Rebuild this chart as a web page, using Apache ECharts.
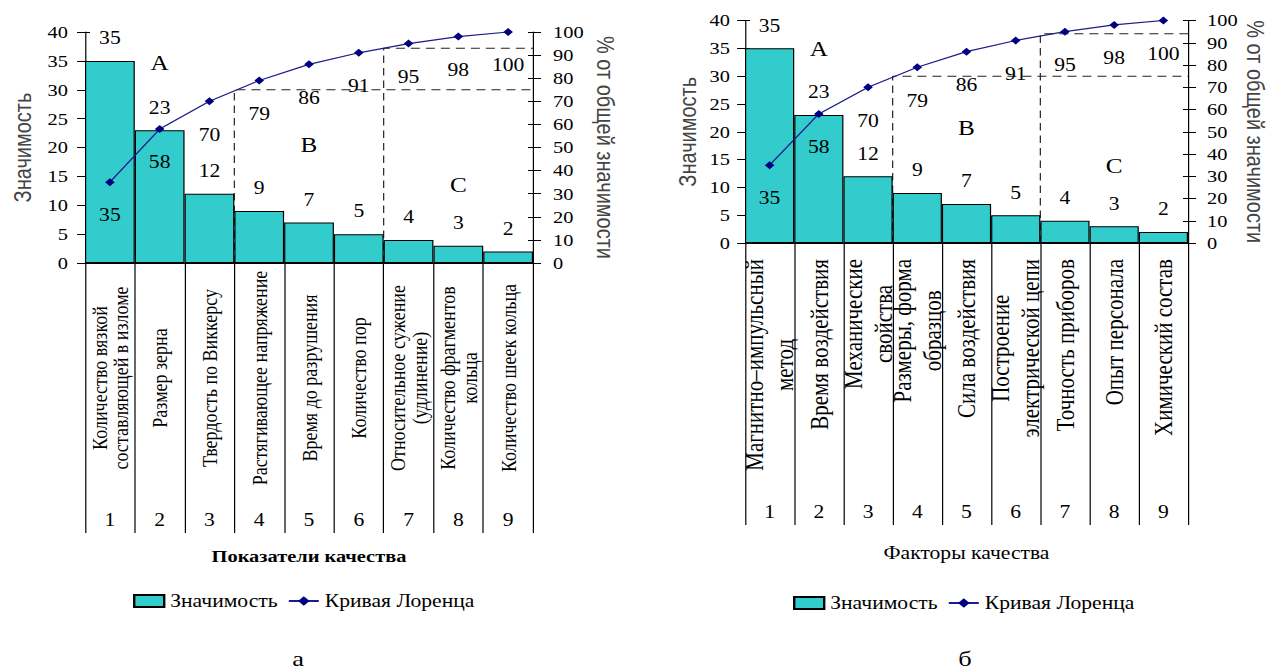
<!DOCTYPE html>
<html>
<head>
<meta charset="utf-8">
<script src="https://cdn.jsdelivr.net/npm/echarts@6/dist/echarts.min.js"></script>
<style>
  html, body { margin: 0; padding: 0; background: #fff; overflow: hidden; }
  #wrap { width: 1268px; height: 671px; overflow: hidden; }
  /* the figure is set in a horizontally widened face: draw narrower, then widen 1.2x */
  #chart { width: 1057px; height: 671px; transform: scaleX(1.2); transform-origin: 0 0; }
</style>
</head>
<body>
<div id="wrap"><div id="chart"></div></div>
<script>
// ---- Pareto data: significance of each item and cumulative share (Lorenz curve), % ----
const significanceA = [35, 23, 12, 9, 7, 5, 4, 3, 2];
const cumulativeA   = [35, 58, 70, 79, 86, 91, 95, 98, 100];
const significanceB = [35, 23, 12, 9, 7, 5, 4, 3, 2];
const cumulativeB   = [35, 58, 70, 79, 86, 91, 95, 98, 100];

const categoriesA = [
  'Количество вязкой\nсоставляющей в изломе',
  'Размер зерна',
  'Твердость по Виккерсу',
  'Растягивающее напряжение',
  'Время до разрушения',
  'Количество пор',
  'Относительное сужение\n(удлинение)',
  'Количество фрагментов\nкольца',
  'Количество шеек кольца'
];
const categoriesB = [
  'Магнитно–импульсный\nметод',
  'Время воздействия',
  'Механические\nсвойства',
  'Размеры, форма\nобразцов',
  'Сила воздействия',
  'Построение\nэлектрической цепи',
  'Точность приборов',
  'Опыт персонала',
  'Химический состав'
];
const rankLabels = ['1', '2', '3', '4', '5', '6', '7', '8', '9'];

// ABC zones: zone A ends after item 3, zone B after item 6; cumulative limits, %
const zoneEnds = [3, 6];
const zoneThresholdsA = [75, 93];
const zoneThresholdsB = [75, 94];
const zoneNames = ['A', 'B', 'C'];
// zone letters: [item index, height on the significance axis]
const zoneLetterPosA = [[1, 34.6], [4, 20.4], [7, 13.5]];
const zoneLetterPosB = [[1, 35.0], [4, 20.7], [7, 13.8]];

const SIG_MAX = 40, SIG_STEP = 5, PCT_MAX = 100, PCT_STEP = 10;

// ---- layout ----
const SX = 1.2;
const px = v => v / SX;             // page x -> drawing x
const SERIF = '"Liberation Serif","Times New Roman",serif';
const SANS = '"Liberation Sans",Arial,sans-serif';
const INK = '#000';

const panels = [
  {
    grid: { left: px(85), top: 32, width: px(533 - 85), height: 231 },
    categories: categoriesA, values: significanceA, cumulative: cumulativeA,
    thresholds: zoneThresholdsA, letters: zoneLetterPosA,
    catLabel: { rotate: 90, align: 'center', margin: 115, fontSize: 18, lineHeight: 18 },
    richCenter: false,
    tickLen: 270, rankMargin: 248,
    title: 'Показатели качества', titleGap: 285, titleWeight: 'bold', titleSize: 17,
    yLabelMargin: [px(17), px(20)], yNameGap: [42, 50],
    legendPos: { left: px(133), top: 592 },
    tag: 'а', tagX: px(298)
  },
  {
    grid: { left: px(745), top: 20.5, width: px(1188 - 745), height: 222.5 },
    categories: categoriesB, values: significanceB, cumulative: cumulativeB,
    thresholds: zoneThresholdsB, letters: zoneLetterPosB,
    catLabel: { rotate: 90, margin: 16, fontSize: 21, lineHeight: 25 },
    richCenter: true,
    tickLen: 282, rankMargin: 260,
    title: 'Факторы качества', titleGap: 301, titleWeight: 'normal', titleSize: 18,
    yLabelMargin: [px(15), px(19)], yNameGap: [38, 46],
    legendPos: { left: px(793), top: 594 },
    tag: 'б', tagX: px(965)
  }
];

const grid = [], xAxis = [], yAxis = [], series = [], legend = [], graphic = [];

panels.forEach((p, k) => {
  const xb = k * 3, yb = k * 4;
  grid.push(Object.assign({ containLabel: false, outerBoundsMode: 'none' }, p.grid));

  const catLabel = {
    interval: 0, rotate: p.catLabel.rotate, margin: p.catLabel.margin,
    fontFamily: SERIF, fontSize: p.catLabel.fontSize, lineHeight: p.catLabel.lineHeight, color: INK
  };
  if (p.catLabel.align) catLabel.align = p.catLabel.align;
  if (p.richCenter) {
    catLabel.formatter = v => v.split('\n').map(s => '{c|' + s + '}').join('\n');
    catLabel.rich = { c: { align: 'center', fontFamily: SERIF, fontSize: p.catLabel.fontSize,
                           lineHeight: p.catLabel.lineHeight, color: INK } };
  }

  // category names with separators running down between them
  xAxis.push({
    type: 'category', gridIndex: k, position: 'bottom', data: p.categories, boundaryGap: true,
    axisLine: { show: true, onZero: false, lineStyle: { color: INK, width: 1 } },
    axisTick: { show: true, interval: 0, length: p.tickLen, lineStyle: { color: INK, width: 1 } },
    axisLabel: catLabel, splitLine: { show: false }
  });
  // item numbers row and axis title
  xAxis.push({
    type: 'category', gridIndex: k, position: 'bottom', data: rankLabels, boundaryGap: true,
    axisLine: { show: false, onZero: false }, axisTick: { show: false },
    axisLabel: { interval: 0, margin: p.rankMargin, fontFamily: SERIF, fontSize: 18, color: INK },
    name: p.title, nameLocation: 'middle', nameGap: p.titleGap,
    nameTextStyle: { fontFamily: SERIF, fontSize: p.titleSize, fontWeight: p.titleWeight, color: INK }
  });
  // continuous item scale for zone borders
  xAxis.push({ type: 'value', gridIndex: k, min: 0, max: p.categories.length, show: false });

  const valueAxis = (pos, max, step) => ({
    type: 'value', gridIndex: k, position: pos, min: 0, max: max, interval: step,
    axisLine: { show: true, onZero: false, lineStyle: { color: INK, width: 1 } },
    axisTick: { show: true, inside: false, length: px(8), lineStyle: { color: INK, width: 1 } },
    splitLine: { show: false }
  });
  const left = valueAxis('left', SIG_MAX, SIG_STEP);
  left.axisLabel = { margin: p.yLabelMargin[0], fontFamily: SERIF, fontSize: 17, color: INK };
  left.name = 'Значимость'; left.nameLocation = 'middle'; left.nameRotate = 90; left.nameGap = p.yNameGap[0];
  left.nameTextStyle = { fontFamily: SANS, fontSize: 20, color: '#444' };
  const right = valueAxis('right', PCT_MAX, PCT_STEP);
  right.axisLabel = { margin: p.yLabelMargin[1], fontFamily: SERIF, fontSize: 17, color: INK };
  right.name = '% от общей значимости'; right.nameLocation = 'middle'; right.nameRotate = -90; right.nameGap = p.yNameGap[1];
  right.nameTextStyle = { fontFamily: SANS, fontSize: 20, color: '#444' };
  yAxis.push(left, right);
  // inner halves of the crossing tick marks
  const innerTicks = (pos, max, step) => ({
    type: 'value', gridIndex: k, position: pos, min: 0, max: max, interval: step,
    axisLine: { show: false, onZero: false }, axisLabel: { show: false }, splitLine: { show: false },
    axisTick: { show: true, inside: true, length: px(5), lineStyle: { color: INK, width: 1 } }
  });
  yAxis.push(innerTicks('left', SIG_MAX, SIG_STEP), innerTicks('right', PCT_MAX, PCT_STEP));

  // zone borders (dashed), drawn beneath the bars
  zoneEnds.forEach((end, i) => {
    series.push({
      type: 'line', name: 'zone' + k + i, xAxisIndex: xb + 2, yAxisIndex: yb + 1,
      data: [[end, 0], [end, p.thresholds[i]], [p.categories.length, p.thresholds[i]]],
      symbol: 'none', silent: true, z: 1, animation: false,
      lineStyle: { color: '#222', width: 1, type: [px(9), 5] }
    });
  });

  series.push({
    type: 'bar', name: 'Значимость', xAxisIndex: xb, yAxisIndex: yb, data: p.values,
    barCategoryGap: '0%', z: 2,
    itemStyle: { color: '#33CCCC', borderColor: INK, borderWidth: 1 },
    label: { show: true, position: 'top', distance: 14, fontFamily: SERIF, fontSize: 18, color: INK },
    markPoint: {
      silent: true, symbol: 'rect', symbolSize: 1, itemStyle: { color: 'transparent' },
      label: { show: true, position: 'inside', formatter: '{b}', fontFamily: SERIF, fontSize: 21, color: INK },
      data: p.letters.map((c, i) => ({ name: zoneNames[i], coord: c }))
    }
  });
  series.push({
    type: 'line', name: 'Кривая Лоренца', xAxisIndex: xb, yAxisIndex: yb + 1, data: p.cumulative,
    z: 3, symbol: 'diamond', symbolSize: 8,
    itemStyle: { color: '#000080' },
    lineStyle: { color: '#1c1c8c', width: 1.2 },
    label: { show: true, position: 'bottom', distance: 20, fontFamily: SERIF, fontSize: 18, color: INK }
  });

  legend.push({
    data: [{ name: 'Значимость', icon: 'rect' }, { name: 'Кривая Лоренца' }],
    left: p.legendPos.left, top: p.legendPos.top, orient: 'horizontal', padding: 0,
    itemWidth: px(30), itemHeight: 12, itemGap: px(10), selectedMode: false,
    textStyle: { fontFamily: SERIF, fontSize: 18, color: INK }
  });

  graphic.push({
    type: 'text', x: p.tagX, y: 669,
    style: { text: p.tag, fontFamily: SERIF, fontSize: 22, lineHeight: 22, fill: INK,
             align: 'center', verticalAlign: 'bottom' }
  });
});

const chart = echarts.init(document.getElementById('chart'), null, { renderer: 'svg' });
chart.setOption({
  animation: false,
  backgroundColor: '#fff',
  grid, xAxis, yAxis, series, legend, graphic
});
</script>
</body>
</html>
